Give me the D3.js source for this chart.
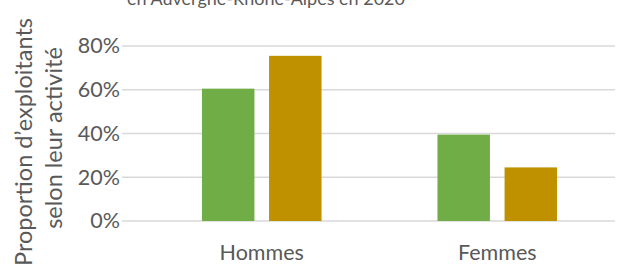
<!DOCTYPE html>
<html>
<head>
<meta charset="utf-8">
<script src="https://cdn.jsdelivr.net/npm/d3@7"></script>
<style>
  body { margin: 0; background: #fff; }
  svg { display: block; font-family: Lato, "Open Sans", sans-serif; }
</style>
</head>
<body>
<svg id="chart"></svg>
<script>
// Chart data
const categories = ["Hommes", "Femmes"];
const seriesNames = ["Série verte", "Série or"];
const seriesColors = ["#70AD47", "#BF9000"];
const greenValues = [0.605, 0.395];
const goldValues = [0.755, 0.245];
const yTicks = [0, 0.2, 0.4, 0.6, 0.8];
const titleText = "en Auvergne-Rhône-Alpes en 2020";
const yTitleLines = ["Proportion d’exploitants", "selon leur activité"];

const width = 619, height = 276;
const svg = d3.select("#chart")
    .attr("width", width)
    .attr("height", height);

// Scales
const y = d3.scaleLinear()
    .domain([0, 0.8])
    .range([221, 46]);

const x0 = d3.scaleBand()
    .domain(categories)
    .range([144, 615])
    .paddingInner(0)
    .paddingOuter(0);

const x1 = d3.scaleBand()
    .domain(seriesNames)
    .range([0, x0.bandwidth()])
    .paddingInner(0.218)
    .paddingOuter(0.864);

// Gridlines
svg.selectAll(".grid")
   .data(yTicks)
   .enter()
   .append("line")
   .attr("class", "grid")
   .attr("x1", 122)
   .attr("x2", 615)
   .attr("y1", d => y(d))
   .attr("y2", d => y(d))
   .attr("stroke", "#d9d9d9")
   .attr("stroke-width", 1.3);

// Y axis
const yAxis = d3.axisLeft(y)
    .tickValues(yTicks)
    .tickFormat(d3.format(".0%"))
    .tickSize(0)
    .tickPadding(0);

const yG = svg.append("g")
    .attr("transform", "translate(120,0)")
    .call(yAxis);
yG.select(".domain").remove();
yG.selectAll("text")
  .attr("font-family", "Lato, sans-serif")
  .attr("font-size", "21.5px")
  .attr("fill", "#595959");

// Bars
const rows = categories.map((c, i) => ({ cat: c, vals: [greenValues[i], goldValues[i]] }));

const groups = svg.selectAll(".group")
   .data(rows)
   .enter()
   .append("g")
   .attr("class", "group")
   .attr("transform", d => `translate(${x0(d.cat)},0)`);

groups.selectAll("rect")
   .data(d => d.vals.map((v, j) => ({ name: seriesNames[j], value: v, color: seriesColors[j] })))
   .enter()
   .append("rect")
   .attr("x", d => x1(d.name))
   .attr("width", x1.bandwidth())
   .attr("y", d => y(d.value))
   .attr("height", d => y(0) - y(d.value))
   .attr("fill", d => d.color);

// Category labels
const xAxis = d3.axisBottom(x0).tickSize(0).tickPadding(0);
const xG = svg.append("g")
    .call(xAxis);
xG.select(".domain").remove();
xG.selectAll("text")
  .attr("y", 260)
  .attr("dy", 0)
  .attr("font-family", "Lato, sans-serif")
  .attr("font-size", "21.5px")
  .attr("fill", "#595959");

// Title (cut at top, as in the source image)
svg.append("text")
   .attr("x", 266)
   .attr("y", 5)
   .attr("text-anchor", "middle")
   .attr("font-size", "18px")
   .attr("fill", "#595959")
   .text(titleText);

// Y axis title, two lines
svg.selectAll(".ytitle")
   .data(yTitleLines)
   .enter()
   .append("text")
   .attr("class", "ytitle")
   .attr("transform", (d, i) => `translate(${31.5 + i * 30},${i === 0 ? 142 : 138}) rotate(-90)`)
   .attr("text-anchor", "middle")
   .attr("font-size", "23.5px")
   .attr("fill", "#595959")
   .text(d => d);
</script>
</body>
</html>
